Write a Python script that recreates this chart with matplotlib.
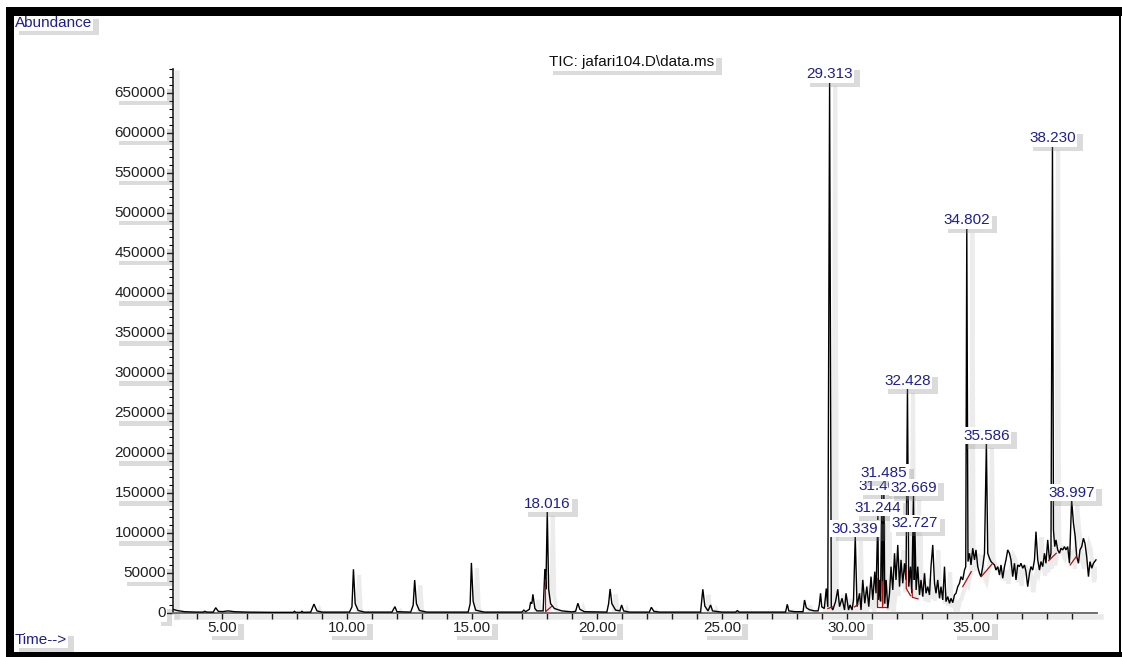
import matplotlib
matplotlib.use("Agg")
import matplotlib.pyplot as plt
import matplotlib.patheffects as pe
from matplotlib.patches import Rectangle

plt.rcParams['font.family'] = ['Liberation Sans', 'DejaVu Sans']

# ---------------- data ----------------
times = [3.04, 3.2, 3.5, 4.0, 4.25, 4.31, 4.4, 4.65, 4.75, 4.85, 5.0, 5.24, 5.5, 6.0, 7.0,
         7.85, 7.9, 7.95, 8.15, 8.2, 8.25, 8.55, 8.68, 8.8, 9.0, 10.1, 10.2, 10.26, 10.33,
         10.45, 10.7, 11.8, 11.92, 12.0, 12.55, 12.65, 12.71, 12.78, 12.9, 13.2, 14.85,
         14.93, 14.98, 15.05, 15.15, 15.34, 15.5, 17.0, 17.08, 17.15, 17.3, 17.35, 17.40,
         17.44, 17.52, 17.6, 17.85, 17.92, 17.96, 18.016, 18.07, 18.15, 18.3, 18.6, 19.0,
         19.15, 19.24, 19.32, 19.5, 20.4, 20.47, 20.53, 20.6, 20.75, 20.92, 20.99, 21.07,
         21.3, 22.1, 22.18, 22.28, 22.5, 24.15, 24.24, 24.32, 24.45, 24.55, 24.63, 25.0,
         25.55, 25.62, 25.7, 27.55, 27.62, 27.68, 27.9, 28.25, 28.31, 28.38, 28.5, 28.7,
         28.85, 28.9, 28.95, 29.0, 29.1, 29.18, 29.24, 29.313, 29.38,
         29.44, 29.55, 29.64, 29.71, 29.81, 29.91, 29.97, 30.07, 30.13, 30.21, 30.27,
         30.339, 30.41, 30.51, 30.57, 30.64, 30.72, 30.80, 30.88, 30.97, 31.04, 31.12,
         31.17, 31.244, 31.27, 31.32, 31.35, 31.402, 31.435, 31.485, 31.52, 31.575, 31.64,
         31.71, 31.77, 31.84, 31.91, 31.97, 32.04, 32.11, 32.17, 32.24, 32.31, 32.37,
         32.428, 32.48, 32.55, 32.60, 32.669, 32.70, 32.727, 32.775, 32.84, 32.91, 32.97,
         33.04, 33.11, 33.17, 33.24, 33.31, 33.37, 33.44, 33.51, 33.57, 33.64, 33.71,
         33.77, 33.84, 33.91, 33.97, 34.04, 34.11, 34.17, 34.24, 34.31, 34.37, 34.44,
         34.51, 34.57, 34.64, 34.71, 34.76, 34.802, 34.85, 34.91, 34.97, 35.04, 35.11,
         35.17, 35.24, 35.31, 35.37, 35.44, 35.51, 35.586, 35.64, 35.71, 35.77, 35.84,
         35.91, 35.97, 36.04, 36.11, 36.17, 36.24, 36.31, 36.37, 36.44, 36.51, 36.57,
         36.64, 36.71, 36.77, 36.84, 36.91, 36.97, 37.04, 37.11, 37.17, 37.24, 37.31,
         37.37, 37.44, 37.51, 37.57, 37.64, 37.71, 37.77, 37.84, 37.91, 37.97, 38.04,
         38.11, 38.17, 38.230, 38.27, 38.32, 38.37, 38.44, 38.51, 38.57, 38.64, 38.71,
         38.77, 38.84, 38.91, 38.997, 39.07, 39.14, 39.20, 39.27, 39.33, 39.40, 39.47,
         39.53, 39.60, 39.67, 39.73, 39.80, 39.87, 39.97]

abundance = [5000, 3500, 2000, 1500, 1500, 2500, 1500, 1500, 7000, 2500, 2000, 3000, 2000, 1500, 1200,
             1200, 2500, 1200, 1200, 2500, 1200, 1500, 11500, 3000, 1500, 1500, 8000, 55000, 12000,
             3500, 1500, 1500, 8300, 2000, 1500, 10000, 41600, 12000, 3500, 1500, 1500,
             12000, 63000, 15000, 4000, 2500, 1500, 1500, 4000, 2000, 5000, 14000, 12000,
             23700, 6000, 3000, 3000, 55400, 30000, 128000, 30000, 12000, 6000, 3000, 1800,
             2500, 12500, 5000, 2000, 1500, 12000, 30400, 12000, 4000, 3000, 10400, 3000,
             1500, 1500, 7500, 2500, 1500, 1500, 30000, 9000, 3000, 10400, 3000, 1500,
             1500, 3300, 1500, 1500, 11200, 3000, 2000, 2000, 16600, 7000, 4500, 3000,
             3000, 10000, 25000, 8000, 6000, 31000, 8000, 665000, 8000,
             4200, 14600, 30000, 8300, 18750, 4200, 25000, 4200, 10400, 4200, 16700,
             97000, 8300, 25000, 4200, 41700, 12500, 33300, 8300, 45800, 16700, 52000,
             25000, 123000, 16700, 41700, 15000, 150000, 10000, 166600, 12000, 41700, 6250,
             25000, 58300, 29200, 75000, 41700, 85400, 33300, 66700, 37500, 62500, 41700,
             281600, 33300, 58300, 25000, 148000, 41700, 104000, 29200, 58300, 22900, 41700,
             20800, 50000, 25000, 33300, 22900, 58300, 85400, 37500, 25000, 41700, 18750,
             33300, 16700, 58300, 14600, 20800, 12500, 18750, 13300, 22900, 25000, 33300,
             37500, 45800, 41700, 54000, 58300, 482000, 64600, 75000, 60400, 81300, 66700,
             79200, 58300, 50000, 45800, 58300, 75000, 212900, 75000, 68800, 64600, 62500,
             60400, 54000, 58300, 47900, 60400, 43750, 58300, 66700, 79200, 75000, 66700,
             45800, 62500, 41700, 60400, 58300, 62500, 56300, 60400, 52000, 33300, 50000,
             58300, 54000, 66700, 102000, 66700, 54000, 64600, 58300, 75000, 62500, 91700,
             66700, 75000, 585000, 104000, 83300, 91700, 79200, 75000, 81300, 79200, 83300,
             79200, 83300, 62500, 141700, 112500, 95800, 70800, 62500, 79200, 83300, 93750,
             87500, 70800, 45800, 64600, 56300, 62500, 66700]

peak_labels = ["18.016", "29.313", "30.339", "31.244", "31.402", "31.485", "32.428",
               "32.669", "32.727", "34.802", "35.586", "38.230", "38.997"]
peak_times = [18.016, 29.313, 30.339, 31.244, 31.402, 31.485, 32.428,
              32.669, 32.727, 34.802, 35.586, 38.230, 38.997]
peak_heights = [128000, 665000, 97000, 123000, 150000, 166600, 281600,
                148000, 104000, 482000, 212900, 585000, 141700]

# integration baselines (time, abundance) drawn in red
baseline_t = [[17.94, 17.95, 18.18], [29.24, 29.44], [30.31, 30.44],
              [31.19, 31.19, 31.55], [31.42, 31.42], [32.38, 32.38, 32.55],
              [32.62, 32.62, 32.85], [34.64, 34.98], [35.38, 35.84],
              [38.08, 38.38], [38.94, 39.18]]
baseline_a = [[41600, 2000, 8300], [6000, 8000], [8000, 11000],
              [44000, 8300, 8300], [40000, 8300], [54000, 31000, 22000],
              [30000, 20000, 18000], [33300, 52000], [45800, 62500],
              [65800, 75000], [60400, 70800]]

x_ticks_major = [5, 10, 15, 20, 25, 30, 35]
x_tick_labels = ["5.00", "10.00", "15.00", "20.00", "25.00", "30.00", "35.00"]
x_ticks_minor = list(range(4, 40))
y_ticks_major = list(range(0, 650001, 50000))
y_ticks_minor = list(range(0, 680001, 10000))

title_text = "TIC: jafari104.D\\data.ms"
y_title = "Abundance"
x_title = "Time-->"

# ---------------- figure ----------------
W, H = 1122, 657
FS = 11
fig = plt.figure(figsize=(W / 100, H / 100), dpi=100)
fig.patch.set_facecolor('white')

ax = fig.add_axes([173 / W, 1 - 613.3 / H, (1096.7 - 173) / W, (613.3 - 69) / H])
ax.set_xlim(3.04, 40.0)
ax.set_ylim(0, 680000)
ax.patch.set_alpha(0)

for s in ['top', 'right']:
    ax.spines[s].set_visible(False)
ax.spines['left'].set_color('#202020')
ax.spines['bottom'].set_color('#707070')
ax.spines['left'].set_linewidth(1.2)
ax.spines['bottom'].set_linewidth(1.4)
shadow_line = [pe.SimpleLineShadow(offset=(3, -3), shadow_color='0.6', alpha=0.2, linewidth=4), pe.Normal()]
ax.spines['left'].set_path_effects(shadow_line)
ax.spines['bottom'].set_path_effects(shadow_line)

ax.set_xticks(x_ticks_minor)
ax.set_xticklabels([])
ax.set_yticks(y_ticks_major)
ax.set_yticklabels([])
ax.set_yticks(y_ticks_minor, minor=True)
ax.tick_params(axis='x', which='major', direction='out', length=4, width=1, color='black')
ax.tick_params(axis='y', which='major', direction='out', length=5, width=1, color='black')
ax.tick_params(axis='y', which='minor', direction='out', length=3, width=0.8, color='black')

# trace
ax.plot(times, abundance, color='black', lw=1.0, zorder=3, solid_joinstyle='miter',
        path_effects=[pe.SimpleLineShadow(offset=(4, -4), shadow_color='0.6', alpha=0.18, linewidth=3),
                      pe.Normal()])

# integration baselines
for bt, ba in zip(baseline_t, baseline_a):
    ax.plot(bt, ba, color='#b01010', lw=0.9, zorder=4)

shadow_patch = [pe.withSimplePatchShadow(offset=(4, -3), shadow_rgbFace='0.5', alpha=0.28)]
label_blue = '#1f1f8f'

def boxed(txt):
    txt.get_bbox_patch().set_path_effects(shadow_patch)
    return txt

# peak labels
for i, (lab, t, h) in enumerate(zip(peak_labels, peak_times, peak_heights)):
    boxed(ax.text(t, h, lab, ha='center', va='bottom', fontsize=FS, color=label_blue,
                  zorder=10 + i,
                  bbox=dict(boxstyle='square,pad=0.1', fc='white', ec='none')))

# tick labels
for v in y_ticks_major:
    boxed(ax.text(-0.008, v, f"{v}", transform=ax.get_yaxis_transform(), ha='right', va='center',
                  fontsize=FS, color='#202020', zorder=6,
                  bbox=dict(boxstyle='square,pad=0.08', fc='white', ec='none')))
for v, lab in zip(x_ticks_major, x_tick_labels):
    boxed(ax.text(v, -0.014, lab, transform=ax.get_xaxis_transform(), ha='center', va='top',
                  fontsize=FS, color='#202020', zorder=6,
                  bbox=dict(boxstyle='square,pad=0.08', fc='white', ec='none')))

# titles
boxed(fig.text(632 / W, 1 - 62 / H, title_text, ha='center', va='center', fontsize=FS,
               color='#101010', bbox=dict(boxstyle='square,pad=0.1', fc='white', ec='none')))
boxed(fig.text(15 / W, 1 - 23 / H, y_title, ha='left', va='center', fontsize=FS,
               color=label_blue, bbox=dict(boxstyle='square,pad=0.08', fc='white', ec='none')))
boxed(fig.text(15 / W, 1 - 640 / H, x_title, ha='left', va='center', fontsize=FS,
               color=label_blue, bbox=dict(boxstyle='square,pad=0.08', fc='white', ec='none')))

# frame
def frame_rect(x0, y0, x1, y1):
    fig.add_artist(Rectangle((x0 / W, 1 - y1 / H), (x1 - x0) / W, (y1 - y0) / H,
                             transform=fig.transFigure, facecolor='black', edgecolor='none', zorder=50))

frame_rect(6, 7, 14, 657)
frame_rect(6, 7, 1122, 16)
frame_rect(6, 652, 1122, 657)
frame_rect(1119, 7, 1121, 657)

fig.savefig("out.png", dpi=100)
